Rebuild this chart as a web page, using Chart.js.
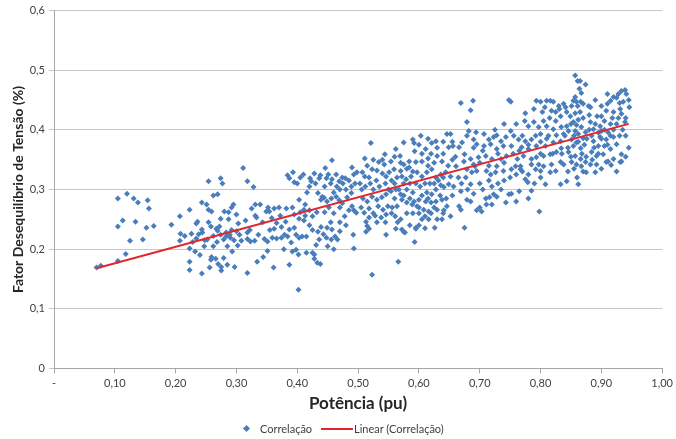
<!DOCTYPE html>
<html lang="pt">
<head>
<meta charset="utf-8">
<script src="https://cdn.jsdelivr.net/npm/chart.js@4.4.1/dist/chart.umd.min.js"></script>
<style>
  html, body { margin: 0; padding: 0; background: #fff; }
  #wrap { position: relative; width: 676px; height: 439px; }
  #legenda { position: absolute; top: 421px; left: 0; width: 676px; height: 16px;
             font: 11px Lato, sans-serif; color: #404040; }
  #legenda span { position: absolute; top: 0; line-height: 16px; }
  .losango { width: 5px; height: 5px; background: #4a7ebb; transform: rotate(45deg); top: 5px !important; }
  .traco { height: 2px; background: #e3262b; top: 7px !important; }
</style>
</head>
<body>
<div id="wrap">
  <canvas id="grafico" width="676" height="439"></canvas>
  <div id="legenda">
    <span class="losango" style="left:244px"></span>
    <span style="left:260px">Correlação</span>
    <span class="traco" style="left:321px;width:32px"></span>
    <span style="left:354px">Linear (Correlação)</span>
  </div>
</div>
<script>
// potência (pu) x fator de desequilíbrio (%), separados por faixa de potência
const faixa1 = [
  [0.070,0.169],[0.077,0.172],[0.105,0.180],[0.118,0.192],[0.105,0.285],[0.120,0.293],[0.131,0.285],
  [0.138,0.278],[0.154,0.282],[0.156,0.268],[0.113,0.248],[0.105,0.238],[0.134,0.246],[0.152,0.236],
  [0.164,0.239],[0.125,0.214],[0.146,0.216],[0.193,0.241],[0.207,0.255],[0.208,0.226],[0.207,0.214],
  [0.223,0.266],[0.223,0.201],[0.223,0.179],[0.223,0.165],[0.226,0.226],[0.234,0.243],[0.236,0.246],
  [0.234,0.218],[0.243,0.233],[0.243,0.159],[0.243,0.278],[0.244,0.228],[0.251,0.275],[0.254,0.314],
  [0.254,0.245],[0.254,0.266],[0.259,0.263],[0.252,0.216],[0.256,0.169],[0.259,0.187],[0.258,0.182],
  [0.262,0.290],[0.269,0.292],[0.266,0.184],[0.267,0.234],[0.269,0.231],[0.270,0.175],[0.274,0.319],
  [0.277,0.310],[0.274,0.251],[0.274,0.224],[0.275,0.170],[0.275,0.164],[0.280,0.263],[0.279,0.216],
  [0.279,0.185],[0.283,0.221],[0.285,0.174],[0.287,0.262],[0.287,0.250],[0.289,0.224],[0.290,0.219],
  [0.292,0.270],[0.293,0.196],[0.295,0.275],[0.297,0.170],[0.300,0.258],[0.302,0.206],[0.303,0.243],
  [0.305,0.224],[0.308,0.214],[0.311,0.336],[0.318,0.314],[0.328,0.304],[0.318,0.160],[0.318,0.228],
  [0.318,0.217],[0.323,0.213],[0.331,0.275],[0.331,0.256],[0.333,0.253],[0.330,0.214],[0.334,0.179],
  [0.339,0.275],[0.344,0.187],[0.346,0.217],[0.349,0.263],[0.351,0.197],[0.352,0.270],[0.351,0.213],
  [0.215,0.222],[0.228,0.212],[0.238,0.225],[0.248,0.215],[0.262,0.222],[0.268,0.212],[0.283,0.228],
  [0.292,0.232],[0.296,0.215],[0.285,0.205],[0.262,0.205],[0.247,0.205],[0.272,0.238],[0.258,0.238],
  [0.232,0.196],[0.240,0.190],[0.300,0.230],[0.315,0.248],[0.322,0.232],[0.336,0.224],[0.343,0.245],
  [0.355,0.232],[0.325,0.268],[0.358,0.252]
];
const faixa2 = [
  [0.384,0.324],[0.387,0.319],[0.393,0.329],[0.395,0.312],[0.405,0.320],[0.421,0.319],[0.423,0.314],
  [0.428,0.327],[0.436,0.319],[0.438,0.324],[0.446,0.336],[0.448,0.319],[0.451,0.325],[0.457,0.349],
  [0.457,0.317],[0.464,0.325],[0.469,0.314],[0.474,0.320],[0.479,0.319],[0.490,0.337],[0.493,0.325],
  [0.498,0.329],[0.489,0.305],[0.441,0.288],[0.434,0.294],[0.439,0.283],[0.444,0.286],[0.449,0.280],
  [0.456,0.285],[0.464,0.288],[0.469,0.282],[0.474,0.277],[0.482,0.287],[0.489,0.294],[0.490,0.272],
  [0.493,0.265],[0.497,0.261],[0.416,0.295],[0.403,0.283],[0.392,0.270],[0.382,0.268],[0.370,0.270],
  [0.362,0.268],[0.354,0.263],[0.413,0.275],[0.411,0.266],[0.413,0.256],[0.411,0.248],[0.403,0.251],
  [0.395,0.236],[0.398,0.224],[0.403,0.219],[0.408,0.221],[0.415,0.221],[0.387,0.233],[0.384,0.221],
  [0.379,0.224],[0.374,0.237],[0.366,0.244],[0.362,0.234],[0.359,0.219],[0.366,0.218],[0.374,0.219],
  [0.390,0.211],[0.392,0.196],[0.398,0.199],[0.402,0.191],[0.415,0.194],[0.425,0.194],[0.431,0.207],
  [0.428,0.184],[0.433,0.177],[0.436,0.216],[0.434,0.229],[0.439,0.237],[0.443,0.225],[0.448,0.219],
  [0.456,0.216],[0.462,0.221],[0.457,0.233],[0.449,0.236],[0.466,0.216],[0.492,0.224],[0.493,0.201],
  [0.402,0.132],[0.361,0.169],[0.387,0.174],[0.428,0.191],[0.438,0.175],
  [0.372,0.256],[0.381,0.246],[0.395,0.258],[0.405,0.262],[0.420,0.265],[0.425,0.255],[0.432,0.262],
  [0.445,0.262],[0.452,0.270],[0.460,0.260],[0.470,0.270],[0.478,0.255],[0.485,0.265],[0.480,0.240],
  [0.470,0.245],[0.455,0.245],[0.420,0.240],[0.425,0.232],[0.378,0.200],[0.450,0.205],[0.460,0.200],
  [0.470,0.230],[0.400,0.310],[0.410,0.325],[0.420,0.305],[0.430,0.310],[0.445,0.305],[0.455,0.310],
  [0.465,0.305],[0.475,0.310],[0.485,0.315],[0.460,0.295],[0.470,0.300],[0.480,0.300],[0.495,0.310]
];
const faixa3 = [
  [0.511,0.352],[0.521,0.378],[0.544,0.359],[0.534,0.346],[0.543,0.342],[0.554,0.347],[0.562,0.368],
  [0.569,0.356],[0.575,0.379],[0.575,0.342],[0.590,0.384],[0.592,0.378],[0.593,0.364],[0.603,0.390],
  [0.605,0.347],[0.611,0.368],[0.615,0.352],[0.621,0.378],[0.628,0.381],[0.630,0.356],[0.638,0.347],
  [0.646,0.393],[0.652,0.393],[0.649,0.371],[0.584,0.347],[0.595,0.346],[0.584,0.337],[0.570,0.331],
  [0.559,0.334],[0.551,0.329],[0.546,0.322],[0.540,0.327],[0.531,0.332],[0.523,0.334],[0.518,0.320],
  [0.511,0.322],[0.507,0.329],[0.564,0.320],[0.572,0.322],[0.579,0.317],[0.587,0.322],[0.597,0.329],
  [0.605,0.322],[0.613,0.329],[0.621,0.334],[0.628,0.320],[0.636,0.325],[0.644,0.329],[0.652,0.322],
  [0.649,0.309],[0.641,0.304],[0.636,0.307],[0.628,0.300],[0.621,0.292],[0.613,0.295],[0.605,0.290],
  [0.600,0.283],[0.611,0.280],[0.620,0.278],[0.628,0.280],[0.638,0.283],[0.646,0.272],[0.641,0.265],
  [0.630,0.266],[0.616,0.263],[0.608,0.266],[0.597,0.272],[0.589,0.275],[0.580,0.278],[0.572,0.283],
  [0.570,0.292],[0.562,0.300],[0.554,0.297],[0.546,0.292],[0.539,0.287],[0.531,0.283],[0.523,0.288],
  [0.515,0.280],[0.508,0.285],[0.564,0.272],[0.556,0.270],[0.549,0.272],[0.541,0.266],[0.533,0.272],
  [0.518,0.268],[0.510,0.261],[0.518,0.253],[0.528,0.256],[0.538,0.253],[0.546,0.258],[0.561,0.255],
  [0.570,0.250],[0.562,0.234],[0.572,0.233],[0.575,0.229],[0.546,0.224],[0.531,0.245],[0.595,0.236],
  [0.626,0.236],[0.605,0.250],[0.616,0.250],[0.638,0.250],[0.652,0.255],[0.513,0.246],[0.515,0.239],
  [0.518,0.234],[0.513,0.229],[0.577,0.228],[0.595,0.234],[0.593,0.212],[0.566,0.179],[0.523,0.157],
  [0.503,0.310],[0.506,0.300],[0.512,0.305],[0.520,0.310],[0.525,0.300],[0.530,0.315],[0.535,0.305],
  [0.545,0.310],[0.550,0.300],[0.555,0.315],[0.560,0.310],[0.567,0.300],[0.575,0.310],[0.580,0.300],
  [0.585,0.310],[0.590,0.295],[0.595,0.310],[0.602,0.305],[0.610,0.310],[0.618,0.310],[0.625,0.310],
  [0.632,0.315],[0.640,0.320],[0.648,0.340],[0.655,0.350],[0.560,0.285],[0.575,0.290],[0.585,0.285],
  [0.592,0.280],[0.600,0.270],[0.615,0.285],[0.625,0.270],[0.635,0.290],[0.645,0.285],[0.655,0.290],
  [0.505,0.270],[0.525,0.260],[0.545,0.245],[0.555,0.260],[0.565,0.245],[0.580,0.260],[0.590,0.260],
  [0.600,0.260],[0.610,0.255],[0.620,0.260],[0.630,0.250],[0.640,0.260],[0.585,0.240],[0.600,0.240],
  [0.610,0.235],[0.580,0.335],[0.590,0.330],[0.615,0.340],[0.625,0.345],[0.640,0.360],[0.630,0.370],
  [0.620,0.360],[0.605,0.360],[0.540,0.350],[0.525,0.350],[0.515,0.340],[0.560,0.355],[0.570,0.345],
  [0.600,0.375],[0.615,0.385],[0.640,0.380],[0.655,0.380],[0.660,0.355]
];
const faixa4 = [
  [0.857,0.491],[0.861,0.482],[0.865,0.482],[0.874,0.476],[0.864,0.469],[0.867,0.462],[0.857,0.455],
  [0.854,0.449],[0.859,0.447],[0.866,0.447],[0.851,0.440],[0.861,0.440],[0.870,0.444],[0.879,0.440],
  [0.882,0.438],[0.843,0.430],[0.857,0.428],[0.849,0.423],[0.862,0.417],[0.854,0.413],[0.843,0.406],
  [0.859,0.408],[0.867,0.405],[0.857,0.398],[0.846,0.398],[0.862,0.393],[0.874,0.396],[0.870,0.386],
  [0.851,0.384],[0.859,0.379],[0.854,0.373],[0.866,0.369],[0.846,0.363],[0.857,0.356],[0.866,0.351],
  [0.851,0.346],[0.874,0.346],[0.933,0.465],[0.939,0.467],[0.941,0.460],[0.928,0.460],[0.925,0.454],
  [0.915,0.449],[0.910,0.444],[0.936,0.447],[0.946,0.438],[0.931,0.435],[0.920,0.430],[0.908,0.432],
  [0.900,0.423],[0.893,0.423],[0.933,0.427],[0.928,0.420],[0.918,0.420],[0.905,0.415],[0.939,0.413],
  [0.915,0.410],[0.898,0.406],[0.882,0.413],[0.887,0.401],[0.900,0.398],[0.911,0.396],[0.920,0.388],
  [0.908,0.384],[0.898,0.388],[0.887,0.381],[0.895,0.373],[0.905,0.373],[0.915,0.368],[0.903,0.359],
  [0.892,0.356],[0.920,0.351],[0.911,0.347],[0.931,0.346],[0.933,0.359],[0.925,0.376],[0.882,0.342],
  [0.884,0.363],[0.669,0.445],[0.689,0.449],[0.685,0.433],[0.679,0.413],[0.748,0.450],[0.751,0.447],
  [0.775,0.428],[0.774,0.415],[0.789,0.435],[0.793,0.449],[0.800,0.447],[0.810,0.449],[0.816,0.449],
  [0.821,0.447],[0.807,0.438],[0.803,0.430],[0.818,0.432],[0.831,0.435],[0.838,0.444],[0.841,0.438],
  [0.833,0.423],[0.825,0.415],[0.805,0.415],[0.789,0.413],[0.780,0.406],[0.797,0.405],[0.810,0.406],
  [0.821,0.401],[0.834,0.405],[0.838,0.393],[0.826,0.391],[0.813,0.390],[0.800,0.393],[0.792,0.390],
  [0.785,0.384],[0.775,0.381],[0.764,0.384],[0.751,0.398],[0.756,0.390],[0.743,0.388],[0.735,0.381],
  [0.723,0.388],[0.715,0.384],[0.728,0.391],[0.707,0.393],[0.694,0.396],[0.682,0.398],[0.690,0.384],
  [0.679,0.390],[0.695,0.376],[0.707,0.373],[0.718,0.376],[0.728,0.368],[0.739,0.373],[0.752,0.373],
  [0.769,0.371],[0.780,0.368],[0.793,0.373],[0.808,0.373],[0.821,0.379],[0.833,0.381],[0.834,0.369],
  [0.826,0.363],[0.816,0.359],[0.805,0.356],[0.793,0.354],[0.785,0.351],[0.772,0.356],[0.762,0.351],
  [0.744,0.356],[0.735,0.351],[0.720,0.351],[0.710,0.356],[0.698,0.354],[0.685,0.351],[0.675,0.359],
  [0.666,0.371],[0.671,0.379],[0.656,0.373],[0.818,0.342],[0.833,0.346],[0.805,0.339],[0.785,0.342],
  [0.767,0.339],[0.728,0.339],[0.690,0.342],[0.674,0.347],[0.661,0.339],[0.679,0.334],[0.687,0.329],
  [0.677,0.320],[0.685,0.309],[0.695,0.331],[0.692,0.339],[0.711,0.331],[0.718,0.325],[0.726,0.329],
  [0.715,0.315],[0.739,0.331],[0.752,0.334],[0.759,0.339],[0.767,0.334],[0.775,0.317],[0.779,0.312],
  [0.785,0.298],[0.792,0.334],[0.800,0.331],[0.797,0.342],[0.808,0.309],[0.816,0.329],[0.825,0.331],
  [0.833,0.309],[0.843,0.314],[0.838,0.342],[0.859,0.342],[0.867,0.339],[0.875,0.329],[0.890,0.329],
  [0.892,0.342],[0.908,0.346],[0.916,0.341],[0.933,0.347],[0.862,0.309],[0.798,0.263],[0.669,0.297],
  [0.690,0.293],[0.679,0.283],[0.666,0.272],[0.669,0.266],[0.695,0.265],[0.710,0.285],[0.711,0.275],
  [0.716,0.287],[0.723,0.292],[0.728,0.288],[0.735,0.300],[0.743,0.278],[0.748,0.292],[0.752,0.293],
  [0.765,0.297],[0.657,0.305],[0.675,0.236],[0.703,0.263],
  [0.665,0.320],[0.670,0.310],[0.680,0.300],[0.700,0.310],[0.705,0.300],[0.720,0.305],[0.730,0.310],
  [0.740,0.315],[0.750,0.320],[0.760,0.325],[0.770,0.330],[0.780,0.325],[0.700,0.345],[0.715,0.340],
  [0.740,0.345],[0.755,0.360],[0.765,0.365],[0.780,0.375],[0.770,0.390],[0.730,0.360],[0.705,0.365],
  [0.690,0.370],[0.725,0.400],[0.740,0.410],[0.760,0.410],[0.700,0.270],[0.720,0.275],[0.685,0.280],
  [0.760,0.280],[0.780,0.285],[0.790,0.310],[0.800,0.320],
  [0.845,0.370],[0.850,0.355],[0.855,0.390],[0.862,0.380],[0.868,0.360],[0.872,0.375],[0.876,0.385],
  [0.880,0.400],[0.884,0.390],[0.888,0.370],[0.890,0.410],[0.895,0.395],[0.900,0.385],[0.905,0.400],
  [0.910,0.375],[0.915,0.390],[0.920,0.400],[0.925,0.410],[0.930,0.390],[0.935,0.400],[0.940,0.420],
  [0.945,0.450],[0.930,0.445],[0.920,0.455],[0.910,0.460],[0.900,0.440],[0.890,0.450],[0.880,0.425],
  [0.870,0.420],[0.865,0.430],[0.850,0.410],[0.840,0.390],[0.835,0.360],[0.820,0.360],[0.810,0.385],
  [0.800,0.380],[0.800,0.360],[0.815,0.420],[0.825,0.430],[0.830,0.440],[0.855,0.335],[0.870,0.330],
  [0.885,0.350],[0.900,0.335],[0.925,0.330],[0.940,0.355],[0.945,0.370],[0.940,0.390],[0.895,0.360],
  [0.875,0.355],[0.860,0.320],[0.845,0.330]
];

// reta de tendência linear (extremos)
const tendX = [0.070, 0.945];
const tendY = [0.168, 0.410];

const rotulosX = ['-', '0,10', '0,20', '0,30', '0,40', '0,50', '0,60', '0,70', '0,80', '0,90', '1,00'];
const rotulosY = ['0', '0,1', '0,2', '0,3', '0,4', '0,5', '0,6'];

const pontos = faixa1.concat(faixa2, faixa3, faixa4).map(p => ({ x: p[0], y: p[1] }));
const reta = tendX.map((x, i) => ({ x: x, y: tendY[i] }));

const fonte = 'Lato, "Open Sans", sans-serif';
const corEixo = '#a6a6a6';

new Chart(document.getElementById('grafico'), {
  type: 'scatter',
  data: {
    datasets: [
      {
        label: 'Linear (Correlação)',
        data: reta,
        showLine: true,
        borderColor: '#e3262b',
        borderWidth: 2,
        pointRadius: 0,
        order: 0
      },
      {
        label: 'Correlação',
        data: pontos,
        pointStyle: 'rectRot',
        pointRadius: 3,
        pointBackgroundColor: '#4a7ebb',
        pointBorderWidth: 0,
        order: 1
      }
    ]
  },
  options: {
    responsive: false,
    animation: false,
    devicePixelRatio: 1,
    layout: { padding: { left: 0, right: 9, top: 8, bottom: 23 } },
    plugins: { legend: { display: false }, tooltip: { enabled: false } },
    scales: {
      x: {
        type: 'linear',
        min: 0,
        max: 1,
        ticks: {
          stepSize: 0.1,
          padding: 3,
          color: '#404040',
          font: { family: fonte, size: 11 },
          callback: (v, i) => rotulosX[i]
        },
        grid: { drawOnChartArea: false, drawTicks: true, tickLength: 5, color: corEixo },
        border: { color: corEixo },
        title: {
          display: true,
          text: 'Potência (pu)',
          color: '#262626',
          font: { family: fonte, size: 17, weight: 'bold' },
          padding: { top: 1, bottom: 2 }
        }
      },
      y: {
        min: 0,
        max: 0.6,
        afterFit: scale => { scale.width = 54; },
        ticks: {
          stepSize: 0.1,
          padding: 4,
          color: '#404040',
          font: { family: fonte, size: 11 },
          callback: (v, i) => rotulosY[i]
        },
        grid: { color: '#c6c6c6', tickLength: 5 },
        border: { color: corEixo },
        title: {
          display: true,
          text: 'Fator Desequilíbrio de Tensão (%)',
          color: '#262626',
          font: { family: fonte, size: 14, weight: 'bold' },
          padding: { top: 10, bottom: 0 }
        }
      }
    }
  }
});
</script>
</body>
</html>
